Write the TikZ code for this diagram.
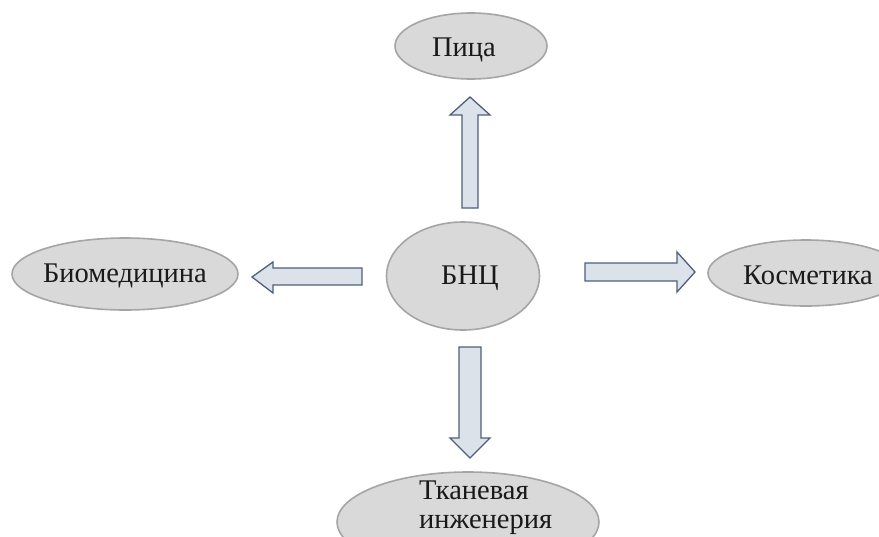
\documentclass[tikz,border=0pt]{standalone}
\usepackage{fontspec}
\setmainfont{Liberation Serif}
\usetikzlibrary{shapes.geometric}
\definecolor{ellfill}{HTML}{D9D9D9}
\definecolor{elldraw}{HTML}{A5A5A5}
\definecolor{arrfill}{HTML}{DCE2EA}
\definecolor{arrdraw}{HTML}{4F5F7C}
\tikzset{
  oval/.style={ellipse, draw=elldraw, fill=ellfill, line width=1.6pt, inner sep=0pt},
  lbl/.style={font=\fontsize{28.5}{31}\selectfont, text=black!90},
  blockarrow/.style={draw=arrdraw, fill=arrfill, line width=1.3pt, line join=miter}
}
\begin{document}
\begin{tikzpicture}[x=1pt,y=-1pt]
\useasboundingbox (0,0) rectangle (879,536);
\clip (0,0) rectangle (879,536);
\fill[white] (0,0) rectangle (879,536);
% ellipses
\node[oval, minimum width=152pt, minimum height=66pt] (pica) at (471,46) {};
\node[lbl] (picat) at (464,50) {Пица};
\node[oval, minimum width=153pt, minimum height=108pt] (bnc) at (463,276) {};
\node[lbl] (bnct) at (470,278) {БНЦ};
\node[oval, minimum width=226pt, minimum height=72pt] (bio) at (125,274) {};
\node[lbl] (biot) at (125,276) {Биомедицина};
\node[oval, minimum width=196pt, minimum height=66pt] (kos) at (806,273) {};
\node[lbl] (kost) at (808,275) {Косметика};
\node[oval, minimum width=262pt, minimum height=100pt] (tkan) at (468,522) {};
\node[lbl, font=\fontsize{28.5}{28.5}\selectfont, align=left, anchor=north west, inner sep=0pt] (tkant) at (419,481) {Тканевая\\инженерия};
% block arrows
\draw[blockarrow] (462,208) -- (462,115) -- (450,115) -- (470,97) -- (490,115) -- (478,115) -- (478,208) -- cycle;
\draw[blockarrow] (362,268) -- (273,268) -- (273,262) -- (252,277) -- (273,293) -- (273,285) -- (362,285) -- cycle;
\draw[blockarrow] (585,263) -- (677,263) -- (677,252) -- (695,272) -- (677,292) -- (677,281) -- (585,281) -- cycle;
\draw[blockarrow] (459,347) -- (481,347) -- (481,438) -- (490,438) -- (470,458) -- (450,438) -- (459,438) -- cycle;
\end{tikzpicture}
\end{document}
